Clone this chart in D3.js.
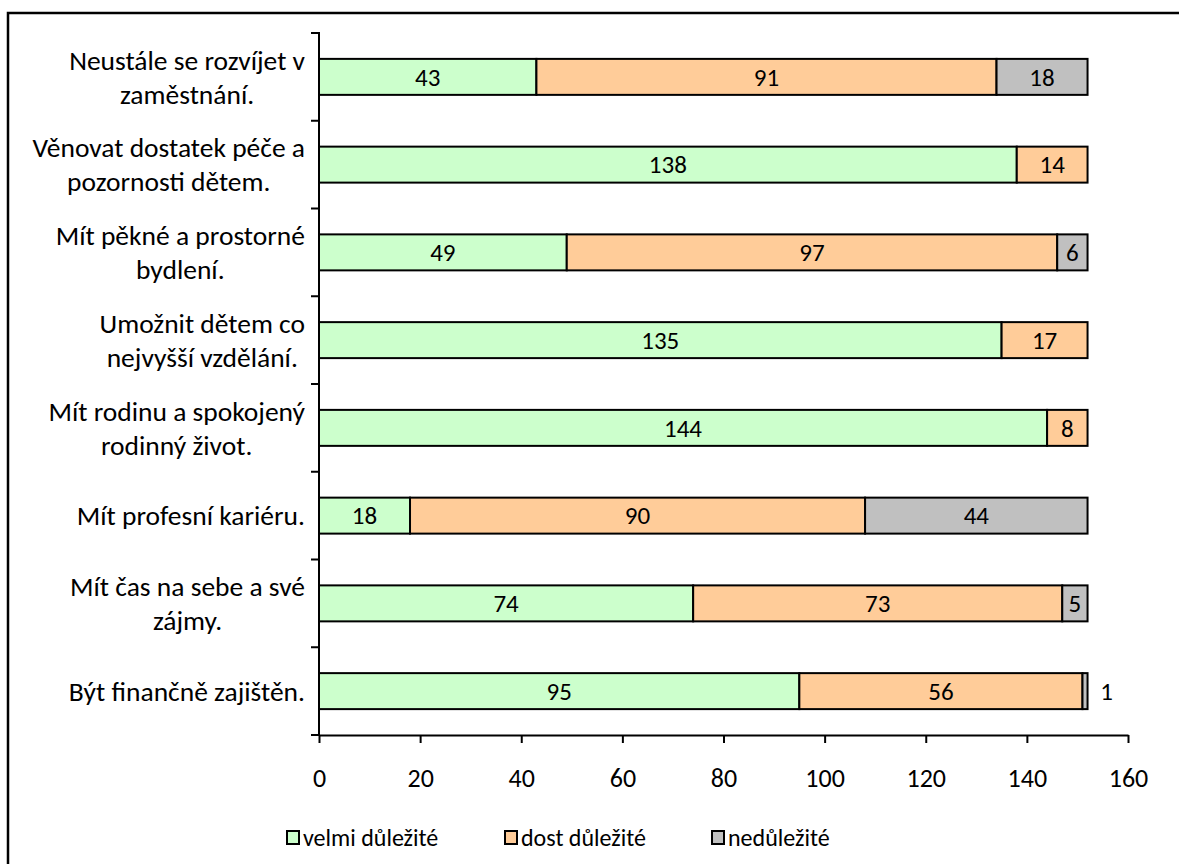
<!DOCTYPE html>
<html>
<head>
<meta charset="utf-8">
<script src="https://cdn.jsdelivr.net/npm/d3@7"></script>
<style>
  html, body { margin: 0; padding: 0; background: #fff; }
  svg { display: block; font-family: Carlito, Calibri, Lato, "Open Sans", sans-serif; }
</style>
</head>
<body>
<svg id="chart" width="1179" height="864"></svg>
<script>
// Categories, top to bottom (lines of each label)
const categories = [
  ["Neustále se rozvíjet v", "zaměstnání."],
  ["Věnovat dostatek péče a", "pozornosti dětem."],
  ["Mít pěkné a prostorné", "bydlení."],
  ["Umožnit dětem co", "nejvyšší vzdělání."],
  ["Mít rodinu a spokojený", "rodinný život."],
  ["Mít profesní kariéru."],
  ["Mít čas na sebe a své", "zájmy."],
  ["Být finančně zajištěn."]
];
const seriesNames = ["velmi důležité", "dost důležité", "nedůležité"];
const velmi = [43, 138, 49, 135, 144, 18, 74, 95];
const dost  = [91, 14, 97, 17, 8, 90, 73, 56];
const nedu  = [18, 0, 6, 0, 0, 44, 5, 1];
const xTicks = [0, 20, 40, 60, 80, 100, 120, 140, 160];
const colors = ["#CCFFCC", "#FFCC99", "#C0C0C0"];

const svg = d3.select("#chart");

// Outer chart frame
svg.append("rect")
  .attr("x", 8).attr("y", 13)
  .attr("width", 1200).attr("height", 900)
  .attr("fill", "#fff").attr("stroke", "#000").attr("stroke-width", 2.5);

const x = d3.scaleLinear().domain([0, 160]).range([319, 1128]);
const idx = d3.range(categories.length);
const y = d3.scaleBand().domain(idx).range([33, 735]).paddingInner(0.59).paddingOuter(0.295);
const yTick = d3.scaleBand().domain(idx).range([33, 735]);

const rows = idx.map(i => ({ i, vals: [velmi[i], dost[i], nedu[i]] }));
const stack = d3.stack().keys([0, 1, 2]).value((d, k) => d.vals[k])(rows);

// Bars
stack.forEach((layer, k) => {
  svg.append("g").selectAll("rect").data(layer.filter(d => d[1] - d[0] > 0)).join("rect")
    .attr("x", d => x(d[0]))
    .attr("y", d => y(d.data.i))
    .attr("width", d => x(d[1]) - x(d[0]))
    .attr("height", y.bandwidth())
    .attr("fill", colors[k])
    .attr("stroke", "#000").attr("stroke-width", 2);
});

// Value labels (centred in segment; too-narrow segments labelled to the right)
stack.forEach((layer) => {
  layer.filter(d => d[1] - d[0] > 0).forEach(d => {
    const v = d[1] - d[0];
    const w = x(d[1]) - x(d[0]);
    const outside = w < 12;
    svg.append("text")
      .attr("x", outside ? x(d[1]) + 19 : (x(d[0]) + x(d[1])) / 2)
      .attr("y", y(d.data.i) + y.bandwidth() / 2)
      .attr("dy", "0.35em")
      .attr("text-anchor", "middle")
      .attr("font-size", 25)
      .attr("fill", "#000")
      .text(v);
  });
});

// Y axis (category axis) with outward ticks between categories
svg.append("line").attr("x1", 319).attr("x2", 319).attr("y1", 32).attr("y2", 735)
  .attr("stroke", "#000").attr("stroke-width", 2);
const boundaries = idx.map(i => yTick(i)).concat([735]);
svg.append("g").selectAll("line").data(boundaries).join("line")
  .attr("x1", 311).attr("x2", 319)
  .attr("y1", d => d).attr("y2", d => d)
  .attr("stroke", "#000").attr("stroke-width", 2);

// Category labels: block right-aligned, lines centred within the block
const lineH = 34;
categories.forEach((lines, i) => {
  const cy = y(i) + y.bandwidth() / 2;
  const g = svg.append("g");
  const texts = lines.map((t, j) => g.append("text")
    .attr("font-size", 27.5)
    .attr("fill", "#000")
    .attr("text-anchor", "middle")
    .attr("y", cy + (j - (lines.length - 1) / 2) * lineH)
    .attr("dy", "0.35em")
    .text(t));
  const maxW = d3.max(texts, t => t.node().getComputedTextLength());
  texts.forEach(t => t.attr("x", 305 - maxW / 2));
});

// X axis
const xAxis = d3.axisBottom(x).tickValues(xTicks).tickSize(8).tickPadding(26).tickSizeOuter(0);
const gx = svg.append("g").attr("transform", "translate(0,735)").call(xAxis);
gx.select(".domain").attr("stroke", "#000").attr("stroke-width", 2);
gx.selectAll(".tick line").attr("stroke", "#000").attr("stroke-width", 2);
gx.selectAll(".tick text").attr("font-size", 26).attr("fill", "#000")
  .attr("font-family", "Carlito, Calibri, Lato, 'Open Sans', sans-serif");

// Legend
const legendX = [287, 505, 712];
seriesNames.forEach((name, k) => {
  const g = svg.append("g").attr("transform", `translate(${legendX[k]},838)`);
  g.append("rect").attr("x", 0).attr("y", -7).attr("width", 12).attr("height", 13)
    .attr("fill", colors[k]).attr("stroke", "#000").attr("stroke-width", 2);
  g.append("text").attr("x", 16).attr("y", 0).attr("dy", "0.35em")
    .attr("font-size", 24).attr("fill", "#000").text(name);
});
</script>
</body>
</html>
